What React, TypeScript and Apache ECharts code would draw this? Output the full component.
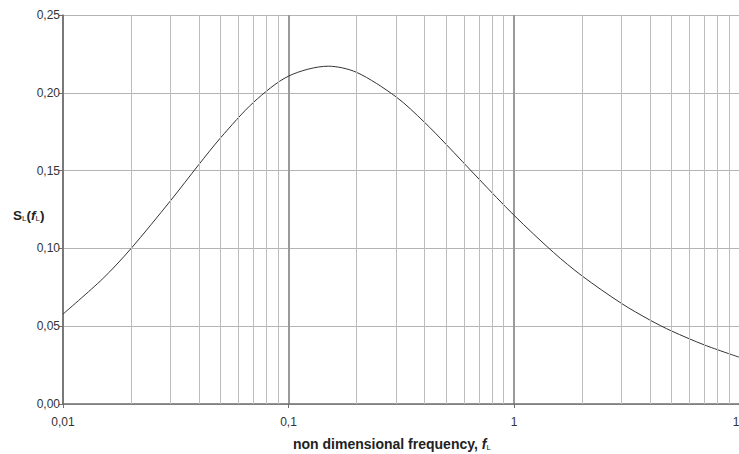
import React, { useEffect, useRef } from "react";
import * as echarts from "echarts";

const freq = [0.01, 0.015, 0.02, 0.03, 0.04, 0.05, 0.07, 0.1, 0.15, 0.2, 0.3, 0.4, 0.5, 0.7, 1, 1.5, 2, 3, 4, 5, 7, 10];
const spectrum = [0.0578, 0.0805, 0.0998, 0.1307, 0.1538, 0.1711, 0.1939, 0.2107, 0.2171, 0.2132, 0.1974, 0.1812, 0.1669, 0.1445, 0.1213, 0.0973, 0.0824, 0.0646, 0.054, 0.0469, 0.0379, 0.03];
const minorGrid = [0.02, 0.03, 0.04, 0.05, 0.06, 0.07, 0.08, 0.09, 0.2, 0.3, 0.4, 0.5, 0.6, 0.7, 0.8, 0.9, 2, 3, 4, 5, 6, 7, 8, 9];

const FONT = "'Liberation Sans', Arial, sans-serif";

export default function App() {
  const ref = useRef<HTMLDivElement>(null);
  useEffect(() => {
    document.body.style.margin = "0";
    const chart = echarts.init(ref.current!, null, { renderer: "svg" });
    const comma = (v: number) => String(v).replace(".", ",");
    const richTitle = (size: number) => ({
      b: { fontFamily: FONT, fontWeight: "bold", fontSize: size, fill: "#222" },
      bi: { fontFamily: FONT, fontWeight: "bold", fontStyle: "italic", fontSize: size, fill: "#222" },
      s: { fontFamily: FONT, fontSize: 8, fill: "#222", padding: [7, 0, 0, 0] },
    });
    chart.setOption({
      animation: false,
      backgroundColor: "#fff",
      textStyle: { fontFamily: FONT },
      grid: { left: 63, right: -0.5, top: 15, bottom: 50, outerBoundsMode: "none", containLabel: false },
      xAxis: {
        type: "log",
        logBase: 10,
        min: 0.01,
        max: 10,
        axisLine: { show: true, lineStyle: { color: "#6e6e6e", width: 1.5 } },
        axisTick: { show: true, length: 4, lineStyle: { color: "#6e6e6e" } },
        axisLabel: {
          color: "#333",
          fontSize: 12,
          margin: 12,
          fontFamily: FONT,
          formatter: (v: number) => comma(Number(v.toPrecision(3))),
        },
        splitLine: { show: true, lineStyle: { color: "#9a9a9a", width: 2 } },
      },
      yAxis: {
        type: "value",
        min: 0,
        max: 0.25,
        interval: 0.05,
        axisLine: { show: true, lineStyle: { color: "#6e6e6e", width: 1.5 } },
        axisTick: { show: true, length: 4, lineStyle: { color: "#6e6e6e" } },
        axisLabel: {
          color: "#333",
          fontSize: 12,
          margin: 3,
          fontFamily: FONT,
          formatter: (v: number) => v.toFixed(2).replace(".", ","),
        },
        splitLine: { show: true, lineStyle: { color: "#b4b4b4", width: 1 } },
      },
      graphic: [
        {
          type: "text",
          left: 13,
          top: 208,
          style: {
            text: "{b|S}{s|L}{b|(}{bi|f}{s|L}{b|)}",
            rich: richTitle(13.5),
          },
        },
        {
          type: "text",
          left: 293,
          top: 437,
          style: {
            text: "{b|non dimensional frequency, }{bi|f}{s|L}",
            rich: richTitle(14),
          },
        },
      ],
      series: [
        {
          type: "line",
          data: [],
          silent: true,
          markLine: {
            silent: true,
            symbol: ["none", "none"],
            label: { show: false },
            lineStyle: { color: "#bdbdbd", width: 1, type: "solid" },
            data: minorGrid.map((x) => ({ xAxis: x })),
          },
          z: 1,
        },
        {
          type: "line",
          data: freq.map((f, i) => [f, spectrum[i]]),
          smooth: 0.3,
          showSymbol: false,
          lineStyle: { color: "#333", width: 1 },
          z: 3,
        },
      ],
    });
    return () => chart.dispose();
  }, []);
  return <div ref={ref} style={{ width: 739, height: 454 }} />;
}
